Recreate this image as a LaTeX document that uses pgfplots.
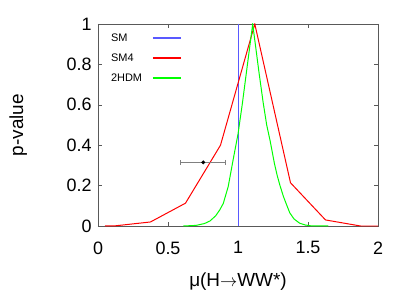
\documentclass[border=0pt]{standalone}
\usepackage{fontspec}
\setmainfont{Liberation Sans}
\usepackage{pgfplots}
\pgfplotsset{compat=1.18}
\definecolor{smblue}{rgb}{0.35,0.35,1}
\definecolor{axgray}{rgb}{0.35,0.35,0.35}
\begin{document}
\begin{tikzpicture}
\useasboundingbox (-98bp,-65bp) rectangle (317bp,226bp);
\begin{axis}[
  scale only axis,
  width=280bp, height=202bp,
  xmin=0, xmax=2, ymin=0, ymax=1,
  xtick={0,0.5,1,1.5,2},
  ytick={0,0.2,0.4,0.6,0.8,1},
  xticklabels={0,0.5,1,1.5,2},
  yticklabels={0,0.2,0.4,0.6,0.8,1},
  tick align=inside,
  major tick length=4bp,
  axis line style={axgray},
  every tick/.style={axgray},
  tick label style={font=\fontsize{18}{20}\selectfont},
  xticklabel style={yshift=-12bp},
  yticklabel style={xshift=-3bp},
  xlabel={μ(H$\rightarrow$WW*)},
  ylabel={p-value},
  label style={font=\fontsize{19}{22}\selectfont},
  xlabel style={at={(axis description cs:0.5,-0.275)},anchor=center},
  ylabel style={at={(axis description cs:-0.285,0.5)},anchor=center},
]
\addplot[smblue, line width=0.9pt] coordinates {(1.0,0) (1.0,1)};
\addplot[red, line width=1pt] coordinates {
(0.05,0) (0.125,0.001) (0.375,0.02) (0.625,0.113) (0.875,0.40) (1.12,1.0)
(1.375,0.214) (1.625,0.03) (1.875,0.0) (2.0,0)};
\addplot[green, line width=1pt] coordinates {
(0.61,0) (0.70,0.003) (0.76,0.012) (0.80,0.025) (0.84,0.05) (0.87,0.08)
(0.895,0.112) (0.93,0.195) (0.965,0.327) (1.0,0.455) (1.03,0.60) (1.06,0.76)
(1.09,0.92) (1.105,1.0) (1.12,0.92) (1.15,0.76) (1.18,0.61) (1.205,0.50)
(1.23,0.42) (1.26,0.31) (1.28,0.25) (1.30,0.20) (1.325,0.145) (1.35,0.10)
(1.37,0.065) (1.40,0.035) (1.44,0.014) (1.48,0.005) (1.52,0.001) (1.645,0)};
\addplot[only marks, mark=*, mark size=1.8pt, black,
  error bars/.cd, x dir=both, x explicit,
  error bar style={gray, line width=0.8pt},
  error mark options={rotate=90, gray, mark size=2.5pt, line width=0.8pt}]
  coordinates {(0.752,0.315) +- (0.16,0)};
% legend
\node[anchor=west, font=\fontsize{11}{13}\selectfont, inner sep=0pt] at (axis description cs:0.046,0.931) {SM};
\node[anchor=west, font=\fontsize{11}{13}\selectfont, inner sep=0pt] at (axis description cs:0.046,0.832) {SM4};
\node[anchor=west, font=\fontsize{11}{13}\selectfont, inner sep=0pt] at (axis description cs:0.046,0.733) {2HDM};
\draw[smblue, line width=1.2pt] (axis description cs:0.196,0.931) -- (axis description cs:0.296,0.931);
\draw[red, line width=1.2pt] (axis description cs:0.196,0.832) -- (axis description cs:0.296,0.832);
\draw[green, line width=1.2pt] (axis description cs:0.196,0.733) -- (axis description cs:0.296,0.733);
\end{axis}
\end{tikzpicture}
\end{document}
